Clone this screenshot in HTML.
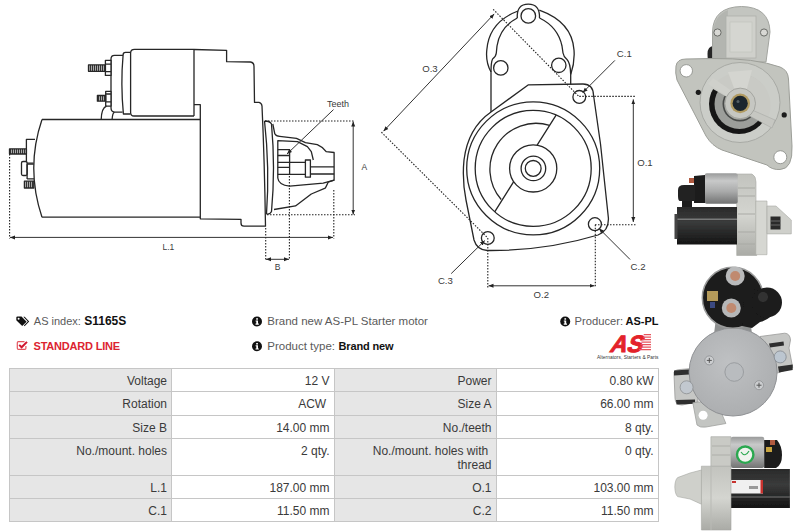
<!DOCTYPE html>
<html><head><meta charset="utf-8">
<style>
*{margin:0;padding:0;box-sizing:border-box}
html,body{width:800px;height:531px;overflow:hidden;background:#fff}
body{position:relative;font-family:"Liberation Sans",sans-serif;color:#333}
svg{position:absolute;left:0;top:0}
.t{position:absolute;white-space:nowrap;font-size:11.5px;line-height:14px}
.g{color:#5a5a5a}
.b{font-weight:bold;color:#111;font-size:11.5px}
.tbl{position:absolute;left:9px;top:368px}
.c{position:absolute;border:1px solid #c6c6c6;font-size:12px;line-height:13.5px;text-align:right;padding:6px 4px 0 0;color:#3a3a3a;white-space:nowrap}
.l{background:#e6e6e6}
.v{background:#fff}
</style></head><body>

<!-- DRAWINGS -->
<svg width="800" height="531" viewBox="0 0 800 531">
<defs>
<pattern id="hat" width="2" height="4" patternUnits="userSpaceOnUse"><rect width="2" height="4" fill="#aaa"/><rect width="1" height="4" fill="#333"/></pattern>
<marker id="ar" viewBox="0 0 10 10" refX="10" refY="5" markerWidth="5" markerHeight="5" orient="auto-start-reverse"><path d="M0,1 L10,5 L0,9 z" fill="#222"/></marker>
</defs>
<g fill="none" stroke="#262626" stroke-width="1.3" stroke-linejoin="round">
<!-- LEFT DRAWING -->
<!-- motor body -->
<path d="M42,119.5 L200,119.5 M42,217.2 L200,217.2 M42,119.5 Q25.5,168 42,217.2"/>
<!-- end plate -->
<path d="M35,139.4 L26.4,139.4 L26.4,163.1 L33.5,163.1"/>
<rect x="9.5" y="148.9" width="16.9" height="5.1" fill="url(#hat)"/>
<rect x="21.5" y="161.5" width="5.6" height="14" rx="1.5" fill="#fff"/>
<path d="M27.1,164.2 L33.8,164.2 M27.1,178.9 L34,178.9 M27.1,164.2 L27.1,178.9"/>
<rect x="24.4" y="181.2" width="9.4" height="6.8" fill="url(#hat)"/>
<!-- solenoid body -->
<path d="M194,116 L134,116 Q130.6,116 130.6,112.5 L130.6,53 Q130.6,49.4 134.5,49.4 L194,49.4 M194,49.4 L194,116"/>
<!-- cap 1 -->
<path d="M130.4,52.4 L125.5,52.4 Q123.1,52.4 123.1,55 Q120.5,84 123.4,114 L130.4,114"/>
<!-- cap 2 -->
<path d="M123,55.4 L114.5,55.4 Q111,55.4 111,59 L111,107.6 Q111,112.1 114.4,112.1 L122.6,112.1"/>
<!-- top nut & bolt -->
<rect x="105.4" y="60.3" width="5.6" height="15.1" fill="#fff"/>
<path d="M105.4,64.1 L111,64.1 M105.4,71.6 L111,71.6"/>
<rect x="88.5" y="64.9" width="16.9" height="6.4" fill="url(#hat)"/>
<!-- bottom nut & bolt -->
<rect x="105.7" y="91.4" width="5.3" height="14.7" fill="#fff"/>
<path d="M105.7,94 L111,94 M105.7,101.9 L111,101.9"/>
<rect x="97.4" y="95.5" width="8.3" height="5.7" fill="url(#hat)"/>
<!-- bracket arcs -->
<path d="M101.2,119.5 Q101.5,108 106.5,106.2 M112.1,119.5 Q112.5,113 114.4,112.1"/>
<!-- drive housing -->
<path d="M194,49.5 L226.6,50.3 L226.6,61.7 L250.5,62 Q254,62.5 254,66.5 L254.5,102.4 L259,102.4 Q261.6,103 262,106 Q264.5,160 265.5,226.2 L244,226.2 Q241,226.2 241,223 L241,219.3 L200.3,218.8 L200.3,104.7 L194,104.7"/>
<!-- flange -->
<path d="M264.5,120.8 Q269.8,168 266.5,214 M265,121 Q270,121 271.5,124 Q275.5,168 271.5,211.5 Q270,214.5 266.5,214"/>
<!-- pinion housing -->
<path d="M272.8,124 L274.8,133.8 Q276,136.3 279.7,136.3 L296.5,138.3 L305.4,142.7 L317.3,144.6 Q323,147 326.2,151.6 L334.1,152.5 L334.1,180.2 L328.1,182.2 Q326,187 325.2,188.1 L311.3,194 L295.5,205.9 L274,209.5"/>
<!-- pinion cavity -->
<path d="M277.8,178 L277.8,140.7 L297.5,141.7 L307.4,146.6 L311.3,151.6 L313.3,160 M277.8,178 Q278.5,185 289.6,186.1 L323.2,183.2 L334.1,180.2"/>
<!-- teeth -->
<path d="M277.8,149.6 L289.6,149.6 L289.6,174.3 L277.8,174.3 M277.8,155.5 L289.6,155.5 M277.8,162.4 L289.6,162.4 M277.8,167.4 L289.6,167.4 M289.6,162.4 L305.4,162.4 M289.6,174.3 L305.4,174.3"/>
<!-- shaft -->
<rect x="305.4" y="160" width="5" height="17.2"/>
<path d="M310.4,166.8 L334.1,166.8 M310.4,174 L334.1,174"/>
</g>
<!-- dims left -->
<g fill="none" stroke="#222" stroke-width="1.1" stroke-dasharray="1.5 1.5">
<path d="M9.6,154 L9.6,238.5"/>
<path d="M265,121 L354,121"/>
<path d="M267,214.8 L355,214.8"/>
<path d="M265.7,228 L265.7,259.5"/>
<path d="M289.4,176 L289.4,259.5"/>
<path d="M333.8,190 L333.8,238.5"/>
</g>
<g fill="none" stroke="#333" stroke-width="1">
<path d="M10,237.4 L333,237.4" marker-start="url(#ar)" marker-end="url(#ar)"/>
<path d="M266,259.3 L289,259.3" marker-start="url(#ar)" marker-end="url(#ar)"/>
<path d="M353.2,121.5 L353.2,214.5" marker-start="url(#ar)" marker-end="url(#ar)"/>
<path d="M333.5,109.6 L287,154" marker-end="url(#ar)"/>
</g>

<!-- MIDDLE DRAWING -->
<g fill="none" stroke="#262626" stroke-width="1.3" stroke-linejoin="round">
<!-- solenoid mount outer arch -->
<path d="M491,112 L491,72 Q485.5,62 486.8,50 Q489,22 518,11 M539.3,10.2 Q572,22 574,50 Q575,62 570.7,74.6 L570.7,84.5"/>
<!-- top lug -->
<path d="M517.3,18 Q516.5,4.2 528.3,4.2 Q540,4.2 539.5,18"/>
<!-- inner arch -->
<path d="M517.3,18 Q500,27 497,46 L496.3,53 Q496,56.5 492.6,59 Q491,62 491,72"/>
<path d="M539.5,18 Q558,27 562,46 L563,53 Q563.5,56.5 567,59.5 Q570.5,63 570.7,74.6"/>
<!-- flange -->
<path d="M491,112 L528.1,84.9 L583,84 Q593,84 593.5,95 L600.5,144 L608.4,218 Q609,231 598,235 Q545,251 487.3,250.5 Q477,250 474,240 L466,200 Q462,180 464,160 Q468,128 491,112"/>
<!-- circles -->
<circle cx="533.2" cy="168.4" r="66.5"/>
<circle cx="533.2" cy="168.4" r="58"/>
<path d="M549.6,125.4 A46,46 0 0 0 501.2,199.5"/>
<path d="M556.1,115.1 L537.1,145.1 M513.7,181.6 L494.7,211.8"/>
<circle cx="533.2" cy="168.4" r="23.6"/>
<circle cx="533.4" cy="168.4" r="12.3"/>
<circle cx="533.2" cy="168.4" r="7.9"/>
<!-- holes -->
<circle cx="528.3" cy="15.9" r="7.3"/>
<circle cx="500.8" cy="67.9" r="7.2"/>
<circle cx="558.8" cy="65.3" r="7.2"/>
<circle cx="579.3" cy="96.9" r="6.4"/>
<circle cx="594.9" cy="224.2" r="6.5"/>
<circle cx="487.8" cy="238" r="6.4"/>
</g>
<g fill="none" stroke="#222" stroke-width="1.1" stroke-dasharray="1.5 1.5">
<path d="M493.2,9.3 L579.3,96.9"/>
<path d="M381.4,132.2 L487.8,238"/>
<path d="M579.3,96.4 L635.5,96.4"/>
<path d="M595,224.8 L636,224.8"/>
<path d="M595.3,224.8 L595.3,287.5"/>
<path d="M487.8,238 L487.8,287.5"/>
</g>
<g fill="none" stroke="#333" stroke-width="1">
<path d="M383.5,131.2 L494.2,13.9" marker-start="url(#ar)" marker-end="url(#ar)"/>
<path d="M633.3,99.4 L633.3,222" marker-start="url(#ar)" marker-end="url(#ar)"/>
<path d="M488.5,285.8 L594.5,285.8" marker-start="url(#ar)" marker-end="url(#ar)"/>
<path d="M614.9,60.4 L582.7,92.6" marker-end="url(#ar)"/>
<path d="M630.1,259.5 L599,228.4" marker-end="url(#ar)"/>
<path d="M451.2,273.6 L484.8,240.6" marker-end="url(#ar)"/>
</g>
<g font-family="Liberation Sans" font-size="8.5" fill="#3a3a3a">
<text x="327" y="107.2" font-size="9">Teeth</text>
<text x="361.5" y="169.6">A</text>
<text x="162.5" y="249.8">L.1</text>
<text x="274.8" y="269.6">B</text>
</g>
<g font-family="Liberation Sans" font-size="9.6" fill="#3a3a3a">
<text x="422.2" y="71.6">O.3</text>
<text x="616.8" y="56.8">C.1</text>
<text x="637.2" y="166.3">O.1</text>
<text x="630.6" y="269.9">C.2</text>
<text x="437.9" y="284.3">C.3</text>
<text x="533.5" y="298.1">O.2</text>
</g>
</svg>


<!-- PHOTOS -->
<svg width="800" height="531" viewBox="0 0 800 531">
<defs>
<linearGradient id="silv" x1="0" y1="0" x2="0" y2="1">
<stop offset="0" stop-color="#999a9a"/><stop offset="0.25" stop-color="#c8c9c9"/><stop offset="0.6" stop-color="#a9aaaa"/><stop offset="1" stop-color="#727373"/></linearGradient>
<linearGradient id="blk" x1="0" y1="0" x2="0" y2="1">
<stop offset="0" stop-color="#2a2a2a"/><stop offset="0.4" stop-color="#3a3b3b"/><stop offset="1" stop-color="#141414"/></linearGradient>
<linearGradient id="alu" x1="0" y1="0" x2="0" y2="1">
<stop offset="0" stop-color="#c2c3be"/><stop offset="0.5" stop-color="#d4d5d0"/><stop offset="1" stop-color="#aaaba6"/></linearGradient>
<radialGradient id="plate" cx="0.45" cy="0.4" r="0.7">
<stop offset="0" stop-color="#bfc1c3"/><stop offset="1" stop-color="#a9abad"/></radialGradient>
<filter id="soft" x="-5%" y="-5%" width="110%" height="110%"><feGaussianBlur stdDeviation="0.35"/></filter>
</defs>
<!-- photo 1: front view -->
<g filter="url(#soft)">
<path d="M707.5,54 Q707.5,46 714,46 L720,47 L721,65 L708,65 Z" fill="#262626"/>
<path d="M712.5,62 L712.5,32 Q713,7 741.5,6.5 Q769.5,7 770,32 L766,62 Z" fill="#c3c5c0" stroke="#a2a49f" stroke-width="1"/>
<path d="M713,34 Q714,15 728,10 L726,60 L713,60 Z" fill="#b3b5b0"/>
<rect x="726" y="16" width="30" height="42" fill="#cfd0cb" stroke="#aeb0ab" stroke-width="0.8"/>
<rect x="730" y="22" width="22" height="30" fill="#d5d6d1" stroke="#c0c1bc" stroke-width="0.6"/>
<circle cx="717.5" cy="32.5" r="3.6" fill="#d8d8d4" stroke="#6a6c68" stroke-width="1"/>
<circle cx="764" cy="32.5" r="3.6" fill="#d8d8d4" stroke="#6a6c68" stroke-width="1"/>
<path d="M676,66 Q677,59 686,59 L712,58.5 Q755,58 780,67 Q788,70 788.5,79 L792,146 Q793,169 780,169.5 Q772,170 767,165 L722,150 Q712,146 706,136 L677,80 Q675,73 676,66 Z" fill="#c2c4be" stroke="#9c9e98" stroke-width="1"/>
<circle cx="740" cy="102.5" r="40" fill="#cbcdc8" stroke="#a8aaa5" stroke-width="1"/>
<circle cx="739" cy="104" r="30" fill="#181818"/>
<circle cx="739.5" cy="104" r="25" fill="#9c9e9a"/>
<circle cx="740" cy="104" r="17.5" fill="#4a4c4a"/>
<circle cx="740" cy="104" r="15.8" fill="#a6a8a4"/>
<path d="M739,104 L711.3,88 A32,32 0 1 1 765.6,122.2 Z" fill="#c9cac5"/>
<path d="M728,72 L737,96 L745,96 L752,70 Z" fill="#d4d5d0"/>
<path d="M739,104 L708,84 L713,78 L742,98 Z" fill="#cfd0cb"/>
<path d="M743,106 L775,120 L772,128 L740,111 Z" fill="#c6c7c2" stroke="#a3a5a0" stroke-width="0.5"/>
<circle cx="740.2" cy="103.4" r="15.3" fill="#c6c7c2" stroke="#9a9c97" stroke-width="0.8"/>
<circle cx="740.2" cy="103.4" r="9.8" fill="#b19b62"/>
<circle cx="740.2" cy="103.4" r="7.6" fill="#1d272d"/>
<circle cx="738" cy="101.5" r="1.5" fill="#556066"/>
<circle cx="686.3" cy="70.8" r="6.2" fill="#fff" stroke="#8f918c" stroke-width="0.9"/>
<circle cx="780.3" cy="157.2" r="6.5" fill="#fff" stroke="#8f918c" stroke-width="0.9"/>
<circle cx="698.3" cy="92.3" r="2.6" fill="#1a1a1a"/>
<circle cx="784.2" cy="114.9" r="2.6" fill="#1a1a1a"/>
</g>
<!-- photo 2: side view -->
<g filter="url(#soft)">
<path d="M736.7,174 L752,174 Q756,176 756,182 L756,205 L756.7,255.5 L736.7,255.5 Z" fill="url(#alu)" stroke="#a8a9a4" stroke-width="0.6"/>
<path d="M738,188 L755,188 M738,196 L755,196 M738,214 L755,214 M738,232 L755,232 M738,244 L755,244" stroke="#a9aaa5" stroke-width="1"/>
<rect x="704.7" y="173.2" width="33" height="30.5" rx="2" fill="url(#silv)"/>
<path d="M694,176 L705,175 L705,203 L694,203 Z" fill="#1c1c1c"/>
<path d="M678,190 Q678,185 684,185 L695,185 L695,201 L680,201 Q678,201 678,196 Z" fill="#222"/>
<rect x="689" y="178" width="5" height="5" fill="#b05a40"/>
<rect x="682" y="201" width="10" height="6" fill="#1e1e1e"/>
<rect x="677" y="207" width="60" height="37.5" fill="url(#blk)"/>
<rect x="677" y="218.6" width="60" height="1.2" fill="#8a8a8a"/>
<rect x="674.5" y="214" width="3" height="25" fill="#444"/>
<path d="M755.8,201 L767,201 L767,254.7 L755.8,254.7 Z" fill="#d6d7d2" stroke="#a8a9a4" stroke-width="0.6"/>
<path d="M767,206 L776,206 L791.3,220 L791.3,233.9 L767,233.9 Z" fill="#cfd0cb" stroke="#a8a9a4" stroke-width="0.6"/>
<rect x="770.5" y="216.5" width="10" height="13" fill="#2a2a2a"/>
<path d="M771,221 L781,221 M771,225 L781,225" stroke="#777" stroke-width="0.8"/>
</g>
<!-- photo 3: rear view -->
<g filter="url(#soft)">
<path d="M760,336.5 L784.8,333.2 Q790,333.5 790.5,340 L789,348 L792.7,367.5 L779,372.5 L770,375 Z" fill="#c6c7c5" stroke="#9a9b99" stroke-width="0.8"/>
<path d="M769,343.5 L783.5,341.5 L784,345.5 L770,347.5 Z" fill="#2e2e2e"/>
<path d="M778,366.5 L792.7,364.5 L792.7,370 L779,372.5 Z" fill="#2e2e2e"/>
<path d="M674,374 Q673,370 680,369.5 L697,368 L698,402 L682,405 Q675,405 675,398 Z" fill="#c6c7c5" stroke="#9a9b99" stroke-width="0.8"/>
<path d="M674,370.5 L689,369.5 L689,374.5 L674,375.5 Z" fill="#2e2e2e"/>
<path d="M676,400 L695,399.5 L695,403.8 L676.5,404.5 Z" fill="#2e2e2e"/>
<path d="M692.8,402.8 L697,425 Q700,428 706,427 L725.9,423.5 L716,400 Z" fill="#c3c5c2" stroke="#9fa19e" stroke-width="0.8"/>
<circle cx="703.1" cy="415.2" r="4.5" fill="#fff"/>
<path d="M716,318 L750,318 L752,334 L714,334 Z" fill="#8e9090"/>
<circle cx="733.1" cy="372" r="44" fill="url(#plate)" stroke="#8f9194" stroke-width="1"/>
<circle cx="734.2" cy="372" r="9.3" fill="#b9bcbf" stroke="#9a9da0" stroke-width="1"/>
<circle cx="709.3" cy="360.4" r="4.5" fill="#ccced0" stroke="#8d8f92" stroke-width="0.8"/>
<circle cx="759" cy="385.2" r="4.5" fill="#ccced0" stroke="#8d8f92" stroke-width="0.8"/>
<path d="M706.8,360.4 L711.8,360.4 M709.3,357.9 L709.3,362.9 M756.5,385.2 L761.5,385.2 M759,382.7 L759,387.7" stroke="#555" stroke-width="1"/>
<circle cx="780.2" cy="356.9" r="6" fill="#bcc6d0" stroke="#8a9096" stroke-width="0.9"/>
<circle cx="686.6" cy="387.3" r="6.5" fill="#c2c8cf" stroke="#8d8f92" stroke-width="0.8"/>
<circle cx="732.8" cy="297.8" r="30.5" fill="#1d1d1d" stroke="#9a9b9b" stroke-width="1.5"/>
<path d="M744,289 Q752,287 760,291 L775,296 Q780,303 776,312 Q768,320 760,322 L752,328 L742,326 Z" fill="#1a1a1a"/>
<circle cx="767" cy="302.5" r="15" fill="#1f1f1f"/><circle cx="763" cy="297" r="5" fill="#333"/>
<circle cx="735.2" cy="276" r="9.5" fill="#b9babb"/>
<circle cx="735.2" cy="276" r="5" fill="#c08a70"/>
<circle cx="731.3" cy="308" r="9.5" fill="#b6b7b8"/>
<circle cx="731.3" cy="308" r="5" fill="#c08a70"/>
<rect x="707" y="291" width="11" height="10" fill="#b49a5a"/>
<rect x="710" y="302" width="5" height="6" fill="#3a4a80"/>
</g>
<!-- photo 4: side view -->
<g filter="url(#soft)">
<path d="M710.9,436.7 L731,436.7 L731,468 L710.9,468 Z" fill="#c9cac5" stroke="#a5a6a1" stroke-width="0.6"/>
<path d="M712,446 L730,446 M712,455 L730,455" stroke="#aeafaa" stroke-width="1"/>
<rect x="730.9" y="436.7" width="33.3" height="31.4" rx="2" fill="url(#silv)"/>
<circle cx="745.2" cy="454.7" r="8.2" fill="#f0f3ee" stroke="#2aa84f" stroke-width="2.4"/>
<path d="M741,452 Q745,458 749,451" stroke="#2aa84f" stroke-width="1.2" fill="none"/>
<path d="M764.2,440 L777,440 Q782,446 782,455 Q782,465 776,468 L764.2,468 Z" fill="#1d1d1d"/>
<rect x="766" y="447" width="6" height="5" fill="#c9a540"/>
<rect x="770" y="440" width="5" height="5" fill="#b05a40"/>
<rect x="730.9" y="469" width="59" height="39" fill="url(#blk)"/>
<rect x="731" y="480" width="32" height="13.5" fill="#f0f0f0"/>
<rect x="760.5" y="480" width="2.5" height="13.5" fill="#c8302e"/>
<rect x="732" y="481" width="4" height="2" fill="#c8302e"/>
<rect x="749" y="486" width="9" height="3" fill="#999"/>
<rect x="730.9" y="496.5" width="59" height="1" fill="#777"/>
<path d="M701.4,466.2 L731,466.2 L731,530 L701.4,530 Z" fill="url(#alu)" stroke="#a5a6a1" stroke-width="0.6"/>
<path d="M711,466.2 L711,530" stroke="#b9bab5" stroke-width="1"/>
<path d="M701.4,470 L701.4,504.2 L690,499 L677.6,496.6 Q675,494 674.8,487 Q675,480 677.6,477.6 L690,473 Z" fill="#cfd0cb" stroke="#a5a6a1" stroke-width="0.6"/>
</g>
</svg>

<!-- INFO ROWS -->
<svg width="800" height="531" viewBox="0 0 800 531">
<!-- tags icon -->
<g fill="#111">
<path d="M16.3,317.8 Q16.3,316.6 17.5,316.6 L21.5,316.6 L26.6,321.7 L22.2,326.1 L16.3,320.3 Z"/>
<path d="M23.3,316.8 L24.7,316.8 L29.2,321.6 L24.6,326.2 L23.9,325.5 L27.8,321.6 Z"/>
</g>
<circle cx="18.6" cy="318.8" r="1" fill="#fff"/>
<!-- check icon -->
<path d="M24.5,341.6 L18.4,341.6 Q17.3,341.6 17.3,342.7 L17.3,348.3 Q17.3,349.4 18.4,349.4 L24.8,349.4 Q25.9,349.4 25.9,348.3 L25.9,346" fill="none" stroke="#e4545e" stroke-width="1.2"/>
<path d="M19.2,344.9 L21.6,347.3 L27,341.9" fill="none" stroke="#d0162e" stroke-width="2"/>
<!-- info icons -->
<g>
<circle cx="257" cy="321.5" r="5" fill="#111"/>
<circle cx="257" cy="346.3" r="5" fill="#111"/>
<circle cx="565.2" cy="321.5" r="5" fill="#111"/>
</g>
<g fill="#fff">
<rect x="256.2" y="318.2" width="1.7" height="1.5"/><path d="M255.6,320.5 L258,320.5 L258,323.6 L258.8,323.6 L258.8,324.7 L255.5,324.7 L255.5,323.6 L256.3,323.6 L256.3,321.4 L255.6,321.4Z"/>
<rect x="256.2" y="343" width="1.7" height="1.5"/><path d="M255.6,345.3 L258,345.3 L258,348.4 L258.8,348.4 L258.8,349.5 L255.5,349.5 L255.5,348.4 L256.3,348.4 L256.3,346.2 L255.6,346.2Z"/>
<rect x="564.4" y="318.2" width="1.7" height="1.5"/><path d="M563.8,320.5 L566.2,320.5 L566.2,323.6 L567,323.6 L567,324.7 L563.7,324.7 L563.7,323.6 L564.5,323.6 L564.5,321.4 L563.8,321.4Z"/>
</g>
<!-- AS logo -->
<g fill="#e3222a">
<text x="609" y="351.6" transform="matrix(1,0,-0.36,1,126.6,0)" font-family="Liberation Sans" font-weight="bold" font-size="23.5" textLength="32" lengthAdjust="spacingAndGlyphs" stroke="#e3222a" stroke-width="1">AS</text>
</g>
<g fill="#e8545c">
<path d="M643.8,334 L651,334 L651,335.3 L643.6,335.3 Z M643,336.5 L651,336.5 L651,337.8 L642.8,337.8 Z M642.2,339 L651,339 L651,340.3 L642,340.3 Z M641.4,341.5 L651,341.5 L651,342.8 L641.2,342.8 Z M640.6,344 L651,344 L651,345.3 L640.4,345.3 Z M639.8,346.5 L651,346.5 L651,347.8 L639.6,347.8 Z M639,349 L651,349 L651,350.3 L638.8,350.3 Z"/>
</g>
<text x="597" y="358.7" font-family="Liberation Sans" font-size="4.8" fill="#333" textLength="61.5">Alternators, Starters &amp; Parts</text>
</svg>

<div class="t g" style="left:33.8px;top:314px;font-size:11px">AS index:</div>
<div class="t b" style="left:84.2px;top:313.6px;font-size:12px">S1165S</div>
<div class="t" style="left:33.5px;top:339px;font-size:11px;color:#dc2430;font-weight:bold;letter-spacing:-0.2px">STANDARD LINE</div>
<div class="t g" style="left:267.3px;top:314px">Brand new AS-PL Starter motor</div>
<div class="t g" style="left:267.3px;top:339px">Product type:</div>
<div class="t b" style="left:338.5px;top:339px;font-size:11px;letter-spacing:-0.15px">Brand new</div>
<div class="t g" style="left:574.6px;top:314px;font-size:11.2px">Producer:</div>
<div class="t b" style="left:625.5px;top:314px;font-size:11px">AS-PL</div>

<!-- TABLE -->
<div class="c l" style="left:9px;top:368px;width:163px;height:24px">Voltage</div>
<div class="c v" style="left:171px;top:368px;width:163.5px;height:24px">12 V</div>
<div class="c l" style="left:333.5px;top:368px;width:163px;height:24px">Power</div>
<div class="c v" style="left:495.5px;top:368px;width:163px;height:24px">0.80 kW</div>

<div class="c l" style="left:9px;top:391px;width:163px;height:24.5px">Rotation</div>
<div class="c v" style="left:171px;top:391px;width:163.5px;height:24.5px">ACW&nbsp;</div>
<div class="c l" style="left:333.5px;top:391px;width:163px;height:24.5px">Size A</div>
<div class="c v" style="left:495.5px;top:391px;width:163px;height:24.5px">66.00 mm</div>

<div class="c l" style="left:9px;top:414.5px;width:163px;height:24.5px">Size B</div>
<div class="c v" style="left:171px;top:414.5px;width:163.5px;height:24.5px">14.00 mm</div>
<div class="c l" style="left:333.5px;top:414.5px;width:163px;height:24.5px">No./teeth</div>
<div class="c v" style="left:495.5px;top:414.5px;width:163px;height:24.5px">8 qty.</div>

<div class="c l" style="left:9px;top:438px;width:163px;height:38px">No./mount. holes</div>
<div class="c v" style="left:171px;top:438px;width:163.5px;height:38px">2 qty.</div>
<div class="c l" style="left:333.5px;top:438px;width:163px;height:38px">No./mount. holes with&nbsp;<br>thread</div>
<div class="c v" style="left:495.5px;top:438px;width:163px;height:38px">0 qty.</div>

<div class="c l" style="left:9px;top:475px;width:163px;height:24px">L.1</div>
<div class="c v" style="left:171px;top:475px;width:163.5px;height:24px">187.00 mm</div>
<div class="c l" style="left:333.5px;top:475px;width:163px;height:24px">O.1</div>
<div class="c v" style="left:495.5px;top:475px;width:163px;height:24px">103.00 mm</div>

<div class="c l" style="left:9px;top:498px;width:163px;height:24px">C.1</div>
<div class="c v" style="left:171px;top:498px;width:163.5px;height:24px">11.50 mm</div>
<div class="c l" style="left:333.5px;top:498px;width:163px;height:24px">C.2</div>
<div class="c v" style="left:495.5px;top:498px;width:163px;height:24px">11.50 mm</div>

</body></html>
